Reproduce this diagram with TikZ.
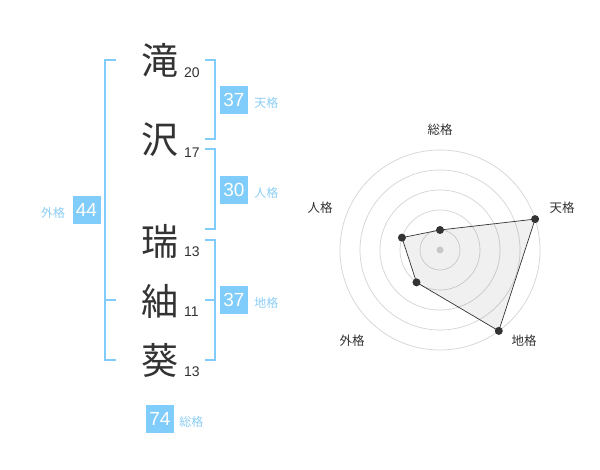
\documentclass[tikz,border=0pt]{standalone}
\usepackage{fontspec}
\setmainfont{Liberation Sans}
\newfontfamily\jpfont{Noto Sans CJK JP}
\usetikzlibrary{positioning}
\definecolor{kakublue}{RGB}{128,204,250}
\definecolor{kakutext}{RGB}{140,206,245}
\definecolor{inkgray}{RGB}{51,51,51}
\definecolor{ringgray}{RGB}{212,212,212}

\begin{document}
\begin{tikzpicture}[x=1pt,y=-1pt,
  kanji/.style={font=\jpfont\fontsize{37}{37}\selectfont,text=inkgray,inner sep=0pt},
  strokes/.style={font=\fontsize{14}{14}\selectfont,text=inkgray,inner sep=0pt,anchor=west},
  valbox/.style={fill=kakublue,minimum width=28pt,minimum height=28pt,inner sep=0pt,text=white,font=\fontsize{19}{19}\selectfont},
  kakulabel/.style={font=\jpfont\fontsize{12}{12}\selectfont,text=kakutext,inner sep=0pt},
  bracket/.style={draw=kakublue,line width=2pt},
  axislabel/.style={font=\jpfont\fontsize{12.5}{12.5}\selectfont,text=inkgray,inner sep=0pt},
  dot/.style={circle,fill=inkgray,inner sep=0pt,minimum size=8pt}]
\useasboundingbox[fill=white] (0,0) rectangle (600,470);

\node[kanji] (k1) at (160,60) {滝};
\node[kanji] (k2) at (160,140) {沢};
\node[kanji] (k3) at (160,241) {瑞};
\node[kanji] (k4) at (160,301) {紬};
\node[kanji] (k5) at (160,360) {葵};
\node[strokes] (s1) at (184,73) {20};
\node[strokes] (s2) at (184,153) {17};
\node[strokes] (s3) at (184,252) {13};
\node[strokes] (s4) at (184,312) {11};
\node[strokes] (s5) at (184,372) {13};

\draw[bracket] (116,60) -- (105,60) -- (105,360) -- (116,360);
\draw[bracket] (105,300) -- (116,300);
\draw[bracket] (205,60) -- (215,60) -- (215,139) -- (205,139);
\draw[bracket] (205,149) -- (215,149) -- (215,229) -- (205,229);
\draw[bracket] (205,240) -- (215,240) -- (215,360) -- (205,360);
\draw[bracket] (205,300) -- (215,300);

\node[valbox] (ten) at (234,100) {37};
\node[kakulabel,right=6pt of ten,yshift=-3pt] {天格};
\node[valbox] (jin) at (234,190) {30};
\node[kakulabel,right=6pt of jin,yshift=-3pt] {人格};
\node[valbox] (chi) at (234,300) {37};
\node[kakulabel,right=6pt of chi,yshift=-3pt] {地格};
\node[valbox] (gai) at (86.5,210) {44};
\node[kakulabel,left=7pt of gai,yshift=-3pt] {外格};
\node[valbox] (sou) at (160,419) {74};
\node[kakulabel,right=5pt of sou,yshift=-3pt] {総格};

\begin{scope}[shift={(440,250)}]
\foreach \r in {20,40,60,80,100}
  \draw[ringgray,line width=0.7pt] (0,0) circle (\r);
\fill[ringgray] (0,0) circle (3.5);
\coordinate (psou) at (-90:20);
\coordinate (pten) at (-18:100);
\coordinate (pchi) at (54:100);
\coordinate (pgai) at (126:40);
\coordinate (pjin) at (198:40);
\draw[inkgray,line width=0.7pt,fill=black,fill opacity=0.06] (psou) -- (pten) -- (pchi) -- (pgai) -- (pjin) -- cycle;
\foreach \p in {psou,pten,pchi,pgai,pjin}
  \node[dot] at (\p) {};
\end{scope}

\node[axislabel] (lsou) at (440,130) {総格};
\node[axislabel] (lten) at (562,208) {天格};
\node[axislabel] (lchi) at (524,341) {地格};
\node[axislabel] (lgai) at (352,341) {外格};
\node[axislabel] (ljin) at (320,208) {人格};

\end{tikzpicture}
\end{document}
